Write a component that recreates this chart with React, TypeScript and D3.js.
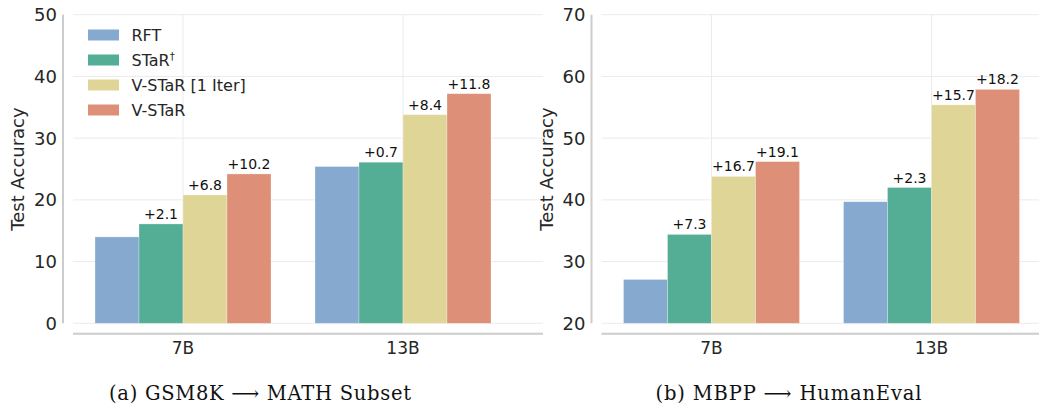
import React from 'react';
import * as d3 from 'd3';

const SIZES = ['7B', '13B'];
const METHODS = ['RFT', 'STaR', 'V-STaR [1 Iter]', 'V-STaR'];
const COLORS = ['#86a9cf', '#54ad95', '#dfd596', '#de8f77'];

// GSM8K -> MATH Subset, one array per method (7B, 13B)
const MATH_RFT = [14.0, 25.4];
const MATH_STAR = [16.1, 26.1];
const MATH_VSTAR1 = [20.8, 33.8];
const MATH_VSTAR = [24.2, 37.2];
const MATH_GAINS = [[null, null], ['+2.1', '+0.7'], ['+6.8', '+8.4'], ['+10.2', '+11.8']];
const MATH_TICKS = [0, 10, 20, 30, 40, 50];

// MBPP -> HumanEval
const HE_RFT = [27.1, 39.7];
const HE_STAR = [34.4, 42.0];
const HE_VSTAR1 = [43.8, 55.4];
const HE_VSTAR = [46.2, 57.9];
const HE_GAINS = [[null, null], ['+7.3', '+2.3'], ['+16.7', '+15.7'], ['+19.1', '+18.2']];
const HE_TICKS = [20, 30, 40, 50, 60, 70];

const SANS = 'DejaVu Sans';
const TXT = '#262626';
const GRID = '#ebebeb';
const SPINE = '#cccccc';

type PanelProps = {
    ox: number;
    series: number[][];
    gains: (string | null)[][];
    ticks: number[];
    caption: string;
    captionWidth: number;
    legend?: boolean;
};

const Panel = ({ ox, series, gains, ticks, caption, captionWidth, legend }: PanelProps) => {
    const top = 14.7;
    const bottom = 323.3;
    const left = ox + 73;
    const right = ox + 513;

    const y = d3.scaleLinear().domain([ticks[0], ticks[ticks.length - 1]]).range([bottom, top]);
    const x = d3.scaleBand().domain(SIZES).range([left, right]).padding(0);
    const inner = d3.scaleBand().domain(METHODS).range([0, x.bandwidth() * 0.8]);
    const groupOff = x.bandwidth() * 0.1;

    return (
        <g>
            {/* grid */}
            {ticks.map(t => (
                <line key={'h' + t} x1={left} x2={right + 30} y1={y(t)} y2={y(t)} stroke={GRID} strokeWidth={1} />
            ))}
            {SIZES.map(s => (
                <line key={'v' + s} x1={x(s)! + x.bandwidth() / 2} x2={x(s)! + x.bandwidth() / 2}
                    y1={top} y2={bottom} stroke={GRID} strokeWidth={1} />
            ))}

            {/* bars */}
            {METHODS.map((m, mi) => SIZES.map((s, si) => {
                const v = series[mi][si];
                const bx = x(s)! + groupOff + inner(m)!;
                return (
                    <rect key={m + s} x={bx} y={y(v)} width={inner.bandwidth()} height={y(ticks[0]) - y(v)}
                        fill={COLORS[mi]} stroke="#ffffff" strokeOpacity={0.35} strokeWidth={0.8} />
                );
            }))}

            {/* gain labels */}
            {METHODS.map((m, mi) => SIZES.map((s, si) => {
                const g = gains[mi][si];
                if (!g) return null;
                const cx = x(s)! + groupOff + inner(m)! + inner.bandwidth() / 2;
                return (
                    <text key={'g' + m + s} x={cx} y={y(series[mi][si]) - 5} textAnchor="middle"
                        fontFamily={SANS} fontSize={14} fill="#111">{g}</text>
                );
            }))}

            {/* spines */}
            <line x1={left - 10} x2={left - 10} y1={top} y2={bottom} stroke={SPINE} strokeWidth={2} />
            <line x1={left} x2={right + 30} y1={bottom + 10.5} y2={bottom + 10.5} stroke={SPINE} strokeWidth={2} />

            {/* y ticks */}
            {ticks.map(t => (
                <text key={'yt' + t} x={left - 16} y={y(t)} dy="0.36em" textAnchor="end"
                    fontFamily={SANS} fontSize={18} fill={TXT}>{t}</text>
            ))}
            <text transform={`translate(${ox + 24},${(top + bottom) / 2}) rotate(-90)`} textAnchor="middle"
                fontFamily={SANS} fontSize={18} fill={TXT}>Test Accuracy</text>

            {/* x ticks */}
            {SIZES.map(s => (
                <text key={'xt' + s} x={x(s)! + x.bandwidth() / 2} y={354} textAnchor="middle"
                    fontFamily={SANS} fontSize={17} fill={TXT}>{s}</text>
            ))}

            {/* legend */}
            {legend && METHODS.map((m, mi) => {
                const ly = 35 + mi * 25;
                return (
                    <g key={'lg' + m}>
                        <rect x={ox + 88} y={ly - 5.5} width={31} height={11} fill={COLORS[mi]} />
                        <text x={ox + 131.5} y={ly} dy="0.36em" fontFamily={SANS} fontSize={16} fill={TXT}>
                            {m === 'STaR' ? <>STaR<tspan dy="-6" fontSize={10}>†</tspan></> : m}
                        </text>
                    </g>
                );
            })}

            <text x={ox + 260} y={400} textAnchor="middle" fontFamily="DejaVu Serif" fontSize={19.5} fill="#111"
                textLength={captionWidth} lengthAdjust="spacing">
                {caption}
            </text>
        </g>
    );
};

export default function App() {
    return (
        <svg width={1039} height={406} style={{ position: 'absolute', left: 0, top: 0, background: '#fff' }}>
            <rect width={1039} height={406} fill="#fff" />
            <Panel ox={0} series={[MATH_RFT, MATH_STAR, MATH_VSTAR1, MATH_VSTAR]} gains={MATH_GAINS}
                ticks={MATH_TICKS} caption="(a) GSM8K ⟶ MATH Subset" captionWidth={302} legend />
            <Panel ox={528.5} series={[HE_RFT, HE_STAR, HE_VSTAR1, HE_VSTAR]} gains={HE_GAINS}
                ticks={HE_TICKS} caption="(b) MBPP ⟶ HumanEval" captionWidth={266} />
        </svg>
    );
}
